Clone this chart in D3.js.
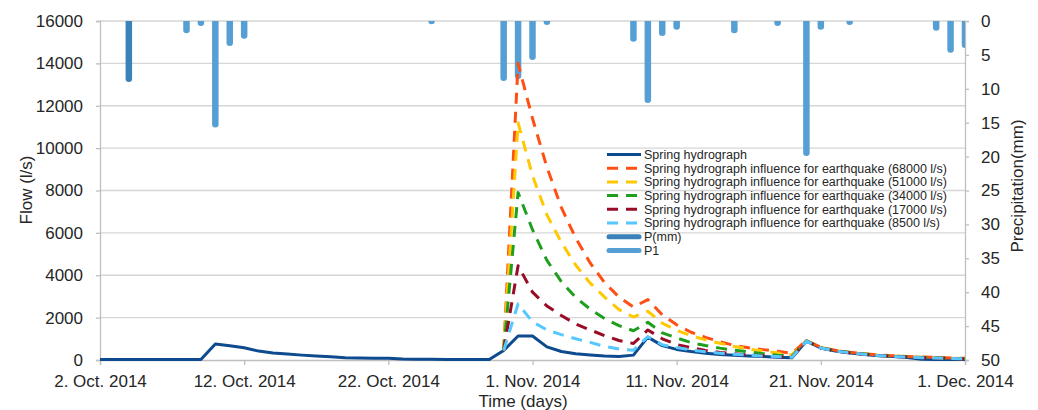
<!DOCTYPE html>
<html>
<head>
<meta charset="utf-8">
<script src="https://cdn.jsdelivr.net/npm/d3@7"></script>
<style>
  body { margin: 0; background: #fff; }
  svg { display: block; font-family: "Liberation Sans", Arial, sans-serif; }
</style>
</head>
<body>
<svg width="1038" height="410"></svg>
<script>
// daily series, first day 2 Oct 2014
const startDay = "2014-10-02";

// spring hydrograph (l/s), 2 Oct .. 1 Dec
const springFlow = [
  20, 20, 20, 20, 20, 20, 20, 20,
  760, 670, 580, 420, 330, 280, 230, 190, 150, 110, 90, 80, 80, 50, 40, 40, 20, 20, 20, 20,
  450, 1130, 1130, 620, 400, 300, 240, 190, 160, 230, 1080, 680, 500, 400, 320, 260, 220,
  190, 160, 130, 110, 900, 560, 420, 330, 260, 200, 160, 120, 30, 20, 20, 20
];

// earthquake scenarios start on 30 Oct (day index 28)
const quakeStart = 28;
const quake68000 = [450, 14000, 11400, 9100, 7200, 5750, 4580, 3650, 2970, 2500, 2850, 2130, 1660, 1310, 1070, 860, 690, 580, 490, 410, 320, 920, 600, 460, 370, 300, 240, 200, 170, 140, 120, 100, 80];
const quake51000 = [450, 11200, 8700, 6850, 5550, 4480, 3630, 2970, 2380, 2030, 2300, 1740, 1400, 1150, 950, 790, 640, 520, 420, 330, 240, 910, 590, 450, 360, 290, 230, 190, 160, 130, 110, 90, 70];
const quake34000 = [450, 7900, 6150, 4700, 3700, 2950, 2400, 1950, 1620, 1380, 1780, 1280, 1040, 820, 680, 560, 460, 380, 300, 230, 180, 900, 580, 440, 350, 280, 220, 180, 150, 120, 100, 80, 60];
const quake17000 = [450, 4450, 3200, 2550, 2100, 1700, 1420, 1150, 920, 780, 1420, 1000, 730, 580, 450, 360, 290, 240, 200, 160, 125, 890, 570, 430, 340, 270, 210, 170, 140, 110, 90, 70, 50];
const quake8500 = [450, 2650, 1800, 1420, 1200, 1000, 830, 640, 520, 460, 1100, 720, 590, 470, 390, 320, 270, 230, 190, 160, 125, 890, 570, 430, 340, 270, 210, 170, 140, 110, 90, 70, 50];

// precipitation (mm)
const precipDark = [["2014-10-04", 9.0]];
const precipLight = [
  ["2014-10-08", 1.8], ["2014-10-09", 0.75], ["2014-10-10", 15.7], ["2014-10-11", 3.7], ["2014-10-12", 2.6],
  ["2014-10-25", 0.4], ["2014-10-30", 8.85], ["2014-10-31", 8.55], ["2014-11-01", 5.75], ["2014-11-02", 0.6],
  ["2014-11-08", 3.05], ["2014-11-09", 12.1], ["2014-11-10", 2.2], ["2014-11-11", 1.3], ["2014-11-15", 1.8],
  ["2014-11-18", 0.75], ["2014-11-20", 19.9], ["2014-11-21", 1.3], ["2014-11-23", 0.6], ["2014-11-29", 1.45],
  ["2014-11-30", 4.7], ["2014-12-01", 4.0]
];

const xTicks = ["2014-10-02", "2014-10-12", "2014-10-22", "2014-11-01", "2014-11-11", "2014-11-21", "2014-12-01"];
const flowTicks = [0, 2000, 4000, 6000, 8000, 10000, 12000, 14000, 16000];
const precipTicks = [0, 5, 10, 15, 20, 25, 30, 35, 40, 45, 50];

const parse = d3.utcParse("%Y-%m-%d");
const day0 = parse(startDay);
const dayAt = i => d3.utcDay.offset(day0, i);

const svg = d3.select("svg");
const plotL = 100, plotR = 965, plotT = 21, plotB = 360;

const x = d3.scaleUtc().domain([parse("2014-10-02"), parse("2014-12-01")]).range([plotL, plotR]);
const y = d3.scaleLinear().domain([0, 16000]).range([plotB, plotT]);
const yP = d3.scaleLinear().domain([0, 50]).range([plotT, plotB]);

svg.append("clipPath").attr("id", "plot")
  .append("rect").attr("x", plotL).attr("y", plotT).attr("width", plotR - plotL).attr("height", plotB - plotT + 3);

// gridlines
svg.append("g").selectAll("line").data(flowTicks.filter(d => d > 0)).join("line")
  .attr("x1", plotL).attr("x2", plotR)
  .attr("y1", d => y(d)).attr("y2", d => y(d))
  .attr("stroke", "#d6d6d6").attr("stroke-width", 1.3);

// axes
const gx = svg.append("g").attr("transform", `translate(0,${plotB})`)
  .call(d3.axisBottom(x).tickValues(xTicks.map(parse)).tickFormat(d3.utcFormat("%-d. %b. %Y")).tickSize(5));
gx.selectAll("text").attr("y", 27).attr("dy", 0);

const gy = svg.append("g").attr("transform", `translate(${plotL},0)`)
  .call(d3.axisLeft(y).tickValues(flowTicks).tickFormat(d3.format("d")).tickSize(4).tickPadding(13));

const gyP = svg.append("g").attr("transform", `translate(${plotR},0)`)
  .call(d3.axisRight(yP).tickValues(precipTicks).tickSize(4).tickPadding(12));

[gx, gy, gyP].forEach(g => {
  g.selectAll(".domain").attr("stroke", "#bfbfbf").attr("stroke-width", 1.3);
  g.selectAll(".tick line").attr("stroke", "#bfbfbf").attr("stroke-width", 1.3);
  g.selectAll("text").attr("fill", "#262626").style("font-size", "17px")
    .style("font-family", "'Liberation Sans', Arial, sans-serif");
});

// axis titles
svg.append("text").attr("transform", "translate(32,190) rotate(-90)")
  .attr("text-anchor", "middle").style("font-size", "17px").attr("fill", "#262626").text("Flow (l/s)");
svg.append("text").attr("transform", "translate(1023,186) rotate(-90)")
  .attr("text-anchor", "middle").style("font-size", "17px").attr("fill", "#262626").text("Precipitation(mm)");
svg.append("text").attr("x", 523).attr("y", 407)
  .attr("text-anchor", "middle").style("font-size", "17px").attr("fill", "#262626").text("Time (days)");

// precipitation bars hanging from the top
const barW = 6.5;
function barPath(d) {
  const cx = x(parse(d[0])), yb = yP(d[1]), r = barW / 2;
  const yr = Math.max(plotT, yb - r);
  return `M${cx - r},${plotT - 2}L${cx - r},${yr}A${r},${r} 0 0 0 ${cx + r},${yr}L${cx + r},${plotT - 2}Z`;
}
const bars = svg.append("g").attr("clip-path", "url(#plot)");
bars.selectAll("path.light").data(precipLight).join("path").attr("class", "light")
  .attr("d", barPath).attr("fill", "#569fd4");
bars.selectAll("path.dark").data(precipDark).join("path").attr("class", "dark")
  .attr("d", barPath).attr("fill", "#3a82b8");

// flow lines
const line = d3.line().x(d => x(d[0])).y(d => y(d[1]));
const toPoints = (vals, offset) => vals.map((v, i) => [dayAt(i + offset), v]);

const series = [
  { name: "Spring hydrograph", vals: springFlow, off: 0, color: "#0d4a8e", dash: null },
  { name: "Spring hydrograph influence for earthquake (68000 l/s)", vals: quake68000, off: quakeStart, color: "#ff4f14", dash: "11,8" },
  { name: "Spring hydrograph influence for earthquake (51000 l/s)", vals: quake51000, off: quakeStart, color: "#ffc800", dash: "11,8" },
  { name: "Spring hydrograph influence for earthquake (34000 l/s)", vals: quake34000, off: quakeStart, color: "#1f9e1f", dash: "11,8" },
  { name: "Spring hydrograph influence for earthquake (17000 l/s)", vals: quake17000, off: quakeStart, color: "#990c25", dash: "11,8" },
  { name: "Spring hydrograph influence for earthquake (8500 l/s)", vals: quake8500, off: quakeStart, color: "#55c8ff", dash: "11,8" }
];

const lines = svg.append("g").attr("clip-path", "url(#plot)");
series.forEach(s => {
  lines.append("path").datum(toPoints(s.vals, s.off))
    .attr("d", line).attr("fill", "none")
    .attr("stroke", s.color).attr("stroke-width", 3)
    .attr("stroke-dasharray", s.dash)
    .attr("stroke-linejoin", "round");
});

// legend
const legendItems = series.map(s => ({ name: s.name, color: s.color, dash: s.dash, w: 3, cap: "butt" }))
  .concat([
    { name: "P(mm)", color: "#3a82b8", dash: null, w: 5, cap: "round" },
    { name: "P1", color: "#569fd4", dash: null, w: 5, cap: "round" }
  ]);
const legend = svg.append("g").attr("transform", "translate(607,154.5)");
const li = legend.selectAll("g").data(legendItems).join("g")
  .attr("transform", (d, i) => `translate(0,${i * 13.7})`);
li.append("line").attr("x1", d => d.cap === "round" ? 2 : 0).attr("x2", d => d.cap === "round" ? 32 : 34)
  .attr("stroke", d => d.color).attr("stroke-width", d => d.w)
  .attr("stroke-dasharray", d => d.dash).attr("stroke-linecap", d => d.cap);
li.append("text").attr("x", 37).attr("dy", "0.35em")
  .style("font-size", "12.5px").attr("fill", "#262626").text(d => d.name);
</script>
</body>
</html>
